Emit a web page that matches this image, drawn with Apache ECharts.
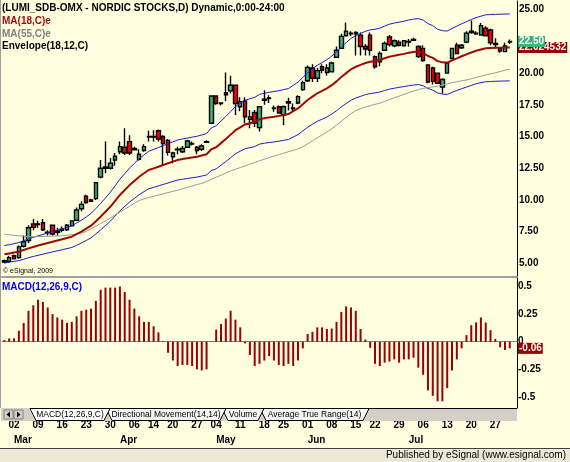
<!DOCTYPE html>
<html>
<head>
<meta charset="utf-8">
<title>LUMI_SDB-OMX</title>
<script src="https://cdn.jsdelivr.net/npm/echarts@6/dist/echarts.min.js"></script>
<style>
  html, body { margin: 0; padding: 0; background: #FFFFE0; }
  #chart { width: 570px; height: 462px; }
</style>
</head>
<body>
<div id="chart"></div>
<script>
// trading days, 26 Feb - 30 Jul 2009
var dates = [
  '2009-02-26', '2009-02-27',
  '2009-03-02', '2009-03-03', '2009-03-04', '2009-03-05', '2009-03-06', '2009-03-09', '2009-03-10', '2009-03-11',
  '2009-03-12', '2009-03-13', '2009-03-16', '2009-03-17', '2009-03-18', '2009-03-19', '2009-03-20', '2009-03-23',
  '2009-03-24', '2009-03-25', '2009-03-26', '2009-03-27', '2009-03-30', '2009-03-31',
  '2009-04-01', '2009-04-02', '2009-04-03', '2009-04-06', '2009-04-07', '2009-04-08', '2009-04-09', '2009-04-14',
  '2009-04-15', '2009-04-16', '2009-04-17', '2009-04-20', '2009-04-21', '2009-04-22', '2009-04-23', '2009-04-24',
  '2009-04-27', '2009-04-28', '2009-04-29', '2009-04-30',
  '2009-05-04', '2009-05-05', '2009-05-06', '2009-05-07', '2009-05-08', '2009-05-11', '2009-05-12', '2009-05-13',
  '2009-05-14', '2009-05-15', '2009-05-18', '2009-05-19', '2009-05-20', '2009-05-22', '2009-05-25', '2009-05-26',
  '2009-05-27', '2009-05-28', '2009-05-29',
  '2009-06-01', '2009-06-02', '2009-06-03', '2009-06-04', '2009-06-05', '2009-06-08', '2009-06-09', '2009-06-10',
  '2009-06-11', '2009-06-12', '2009-06-15', '2009-06-16', '2009-06-17', '2009-06-18', '2009-06-22', '2009-06-23',
  '2009-06-24', '2009-06-25', '2009-06-26', '2009-06-29', '2009-06-30',
  '2009-07-01', '2009-07-02', '2009-07-03', '2009-07-06', '2009-07-07', '2009-07-08', '2009-07-09', '2009-07-10',
  '2009-07-13', '2009-07-14', '2009-07-15', '2009-07-16', '2009-07-17', '2009-07-20', '2009-07-21', '2009-07-22',
  '2009-07-23', '2009-07-24', '2009-07-27', '2009-07-28', '2009-07-29', '2009-07-30'
];

var opens = [
  5.10, 5.15, 5.60, 5.45, 6.35, 6.80, 8.10, 8.05, 8.20, 7.40,
  8.00, 7.45, 7.60, 7.65, 7.95, 8.40, 9.30, 10.30, 9.90, 10.10,
  11.80, 12.50, 12.50, 13.15, 13.80, 14.15, 14.60, 14.05, 13.20, 13.90,
  14.95, 15.00, 15.45, 15.00, 14.70, 13.40, 13.95, 13.80, 14.15, 14.45,
  14.15, 14.00, 14.55, 16.05, 18.20, 17.60, 18.45, 18.60, 19.05, 17.35,
  17.80, 16.35, 16.90, 15.70, 17.85, 18.00, 17.20, 17.35, 16.70, 17.75,
  17.20, 17.65, 18.70, 19.40, 20.40, 19.60, 20.50, 20.05, 20.10, 21.25,
  21.95, 22.95, 23.10, 23.20, 23.00, 22.10, 23.00, 21.30, 20.90, 21.80,
  22.85, 22.15, 22.45, 22.15, 22.50, 22.60, 22.10, 21.95, 20.65, 20.40,
  20.00, 18.90, 20.00, 21.15, 22.20, 22.00, 22.45, 23.30, 23.15, 23.00,
  23.55, 23.40, 22.35, 21.95, 21.70, 22.45
];
var closes = [
  5.20, 5.45, 5.35, 6.30, 6.70, 7.80, 7.85, 8.10, 7.65, 7.45,
  7.30, 7.55, 7.70, 8.00, 8.35, 9.20, 9.65, 9.80, 10.00, 11.35,
  12.50, 12.60, 12.90, 13.45, 14.20, 13.70, 13.70, 13.95, 13.60, 14.20,
  15.00, 14.95, 14.80, 14.45, 13.75, 13.70, 14.00, 14.05, 14.65, 14.40,
  13.90, 14.25, 14.60, 18.20, 17.60, 17.65, 18.30, 19.05, 17.60, 17.75,
  16.55, 16.55, 16.05, 17.35, 17.95, 18.05, 17.25, 16.85, 17.35, 17.65,
  17.25, 18.15, 19.25, 20.45, 19.60, 20.20, 20.25, 20.40, 20.80, 21.80,
  22.90, 23.30, 23.15, 23.10, 22.10, 21.90, 21.80, 20.50, 21.55, 22.35,
  22.25, 22.55, 22.20, 22.55, 22.45, 22.65, 21.30, 21.00, 19.30, 19.35,
  19.20, 19.50, 20.80, 21.95, 21.55, 22.20, 23.15, 23.20, 23.10, 23.75,
  22.95, 22.40, 22.25, 21.75, 22.15, 22.50
];
var lows = [
  5.00, 5.05, 5.30, 5.35, 6.25, 6.60, 7.60, 7.80, 7.55, 7.20,
  7.20, 7.20, 7.45, 7.55, 7.90, 8.35, 9.10, 9.70, 9.85, 10.00,
  11.70, 12.10, 12.40, 12.70, 13.60, 13.55, 13.55, 13.90, 13.10, 13.80,
  14.60, 14.60, 14.60, 12.75, 13.50, 12.90, 13.60, 13.70, 14.10, 14.30,
  13.60, 13.85, 14.50, 16.00, 17.50, 17.45, 17.80, 18.40, 16.70, 17.00,
  16.05, 15.65, 15.75, 15.40, 17.50, 17.65, 16.95, 16.80, 15.90, 17.05,
  17.00, 17.55, 18.60, 19.30, 19.30, 19.30, 20.00, 19.80, 20.05, 21.20,
  21.90, 22.90, 22.90, 21.40, 21.40, 21.40, 21.40, 20.35, 20.55, 21.75,
  22.10, 22.05, 22.10, 22.10, 22.10, 22.55, 21.20, 20.90, 19.20, 19.10,
  19.15, 18.40, 19.95, 21.10, 21.50, 21.90, 22.35, 23.10, 23.00, 22.95,
  22.90, 22.20, 21.95, 21.60, 21.65, 22.30
];
var highs = [
  5.30, 5.60, 5.70, 6.40, 7.20, 8.00, 8.50, 8.35, 8.50, 7.60,
  8.05, 7.80, 7.90, 8.10, 8.40, 9.40, 9.90, 10.40, 10.10, 11.40,
  13.15, 14.60, 13.30, 13.70, 14.60, 15.65, 15.10, 14.20, 14.00, 14.40,
  15.45, 15.50, 15.55, 15.10, 14.80, 13.80, 14.20, 14.25, 14.75, 14.60,
  14.25, 14.40, 14.70, 18.25, 18.25, 17.70, 20.05, 19.80, 19.10, 18.10,
  18.10, 17.10, 17.10, 17.40, 18.65, 18.25, 17.45, 17.45, 17.45, 18.05,
  17.60, 18.25, 19.40, 20.60, 20.70, 20.40, 20.70, 20.70, 20.90, 22.10,
  23.10, 24.00, 23.30, 23.30, 23.20, 22.30, 23.20, 21.40, 21.70, 22.50,
  23.00, 22.65, 22.60, 22.60, 22.70, 22.80, 22.20, 22.20, 20.70, 20.50,
  20.05, 19.60, 20.90, 22.00, 22.40, 22.30, 23.30, 24.15, 23.30, 23.95,
  23.70, 23.50, 22.75, 22.00, 22.40, 22.65
];

// MA(18,C)
var ma18 = [
  5.71, 5.78, 5.85, 5.92, 6.05, 6.18, 6.29, 6.40, 6.50, 6.60,
  6.70, 6.80, 6.90, 7.00, 7.10, 7.30, 7.50, 7.73, 7.97, 8.32,
  8.68, 9.07, 9.46, 9.92, 10.39, 10.78, 11.17, 11.50, 11.83, 12.10,
  12.36, 12.49, 12.62, 12.75, 12.89, 13.02, 13.15, 13.22, 13.28, 13.35,
  13.41, 13.50, 13.60, 14.00, 14.15, 14.48, 14.80, 15.15, 15.50, 15.73,
  15.95, 16.05, 16.15, 16.36, 16.44, 16.51, 16.56, 16.62, 16.70, 16.77,
  17.00, 17.22, 17.55, 17.88, 18.15, 18.41, 18.60, 18.80, 19.05, 19.35,
  19.70, 20.00, 20.30, 20.50, 20.65, 20.80, 20.90, 20.95, 21.03, 21.17,
  21.30, 21.38, 21.45, 21.52, 21.60, 21.66, 21.70, 21.60, 21.35, 21.20,
  20.95, 20.85, 20.82, 21.00, 21.17, 21.33, 21.48, 21.63, 21.77, 21.87,
  21.96, 21.98, 22.00, 22.01, 22.02, 22.024532
];
// MA(55,C)
var ma55 = [
  7.29, 7.25, 7.21, 7.17, 7.13, 7.10, 7.10, 7.11, 7.12, 7.13,
  7.14, 7.15, 7.17, 7.21, 7.26, 7.32, 7.38, 7.52, 7.72, 7.93,
  8.14, 8.36, 8.58, 8.81, 9.04, 9.27, 9.50, 9.73, 9.96, 10.08,
  10.18, 10.28, 10.38, 10.48, 10.58, 10.68, 10.76, 10.88, 10.99, 11.10,
  11.21, 11.30, 11.46, 11.62, 11.79, 11.95, 12.11, 12.28, 12.42, 12.55,
  12.68, 12.82, 12.95, 13.08, 13.22, 13.34, 13.45, 13.57, 13.68, 13.80,
  13.91, 14.03, 14.20, 14.43, 14.66, 14.89, 15.13, 15.36, 15.60, 15.90,
  16.20, 16.50, 16.80, 17.05, 17.20, 17.32, 17.43, 17.54, 17.63, 17.77,
  17.91, 18.05, 18.18, 18.32, 18.45, 18.58, 18.70, 18.80, 18.86, 18.92,
  18.97, 19.06, 19.15, 19.24, 19.32, 19.40, 19.46, 19.56, 19.66, 19.76,
  19.86, 19.94, 20.03, 20.13, 20.23, 20.30
];
// Envelope(18,12,C) upper / lower band
var envUpper = [
  6.40, 6.47, 6.55, 6.63, 6.78, 6.92, 7.04, 7.17, 7.28, 7.39,
  7.50, 7.62, 7.73, 7.84, 7.95, 8.18, 8.40, 8.66, 8.93, 9.32,
  9.72, 10.16, 10.60, 11.11, 11.64, 12.07, 12.51, 12.88, 13.25, 13.55,
  13.84, 13.99, 14.13, 14.28, 14.44, 14.58, 14.73, 14.81, 14.87, 14.95,
  15.02, 15.12, 15.23, 15.68, 15.85, 16.22, 16.58, 16.97, 17.36, 17.62,
  17.86, 17.98, 18.09, 18.32, 18.41, 18.49, 18.55, 18.61, 18.70, 18.78,
  19.04, 19.29, 19.66, 20.03, 20.33, 20.62, 20.83, 21.06, 21.34, 21.67,
  22.06, 22.40, 22.74, 22.96, 23.13, 23.30, 23.41, 23.46, 23.55, 23.71,
  23.86, 23.95, 24.02, 24.10, 24.19, 24.26, 24.30, 24.19, 23.91, 23.74,
  23.46, 23.35, 23.32, 23.52, 23.71, 23.89, 24.06, 24.23, 24.38, 24.49,
  24.60, 24.62, 24.64, 24.65, 24.66, 24.67
];
var envLower = [
  5.02, 5.09, 5.15, 5.21, 5.32, 5.44, 5.54, 5.63, 5.72, 5.81,
  5.90, 5.98, 6.07, 6.16, 6.25, 6.42, 6.60, 6.80, 7.01, 7.32,
  7.64, 7.98, 8.32, 8.73, 9.14, 9.49, 9.83, 10.12, 10.41, 10.65,
  10.88, 10.99, 11.11, 11.22, 11.34, 11.46, 11.57, 11.63, 11.69, 11.75,
  11.80, 11.88, 11.97, 12.32, 12.45, 12.74, 13.02, 13.33, 13.64, 13.84,
  14.04, 14.12, 14.21, 14.40, 14.47, 14.53, 14.57, 14.63, 14.70, 14.76,
  14.96, 15.15, 15.44, 15.73, 15.97, 16.20, 16.37, 16.54, 16.76, 17.03,
  17.34, 17.60, 17.86, 18.04, 18.17, 18.30, 18.39, 18.44, 18.51, 18.63,
  18.74, 18.81, 18.88, 18.94, 19.01, 19.06, 19.10, 19.01, 18.79, 18.66,
  18.44, 18.35, 18.32, 18.48, 18.63, 18.77, 18.90, 19.03, 19.16, 19.25,
  19.32, 19.34, 19.36, 19.37, 19.38, 19.39
];

// MACD(12,26,9,C) histogram
var macdHist = [
  0.015, 0.03, 0.03, 0.10, 0.17, 0.28, 0.33, 0.38, 0.36, 0.31,
  0.25, 0.22, 0.20, 0.17, 0.18, 0.23, 0.28, 0.29, 0.30, 0.37,
  0.47, 0.49, 0.49, 0.49, 0.50, 0.45, 0.38, 0.30, 0.23, 0.18,
  0.18, 0.14, 0.085, 0.005, -0.10, -0.17, -0.22, -0.21, -0.21, -0.22,
  -0.25, -0.26, -0.25, 0.005, 0.11, 0.16, 0.21, 0.28, 0.20, 0.13,
  -0.015, -0.12, -0.22, -0.20, -0.17, -0.13, -0.17, -0.21, -0.22, -0.20,
  -0.22, -0.17, -0.06, 0.07, 0.09, 0.13, 0.13, 0.115, 0.12, 0.18,
  0.27, 0.32, 0.31, 0.28, 0.115, 0.02, -0.055, -0.20, -0.22, -0.19,
  -0.18, -0.16, -0.19, -0.16, -0.16, -0.145, -0.235, -0.30, -0.44, -0.49,
  -0.54, -0.54, -0.42, -0.26, -0.16, -0.06, 0.06, 0.15, 0.175, 0.22,
  0.175, 0.105, 0.025, -0.05, -0.075, -0.06
];

var priceTicks = [5, 7.5, 10, 12.5, 15, 17.5, 20, 22.5, 25];
var macdTicks = [-0.5, -0.25, 0, 0.25, 0.5];
var weekStarts = [
  '2009-03-02', '2009-03-09', '2009-03-16', '2009-03-23', '2009-03-30', '2009-04-06', '2009-04-14',
  '2009-04-20', '2009-04-27', '2009-05-04', '2009-05-11', '2009-05-18', '2009-05-25', '2009-06-01',
  '2009-06-08', '2009-06-15', '2009-06-22', '2009-06-29', '2009-07-06', '2009-07-13', '2009-07-20',
  '2009-07-27'
];
var monthStarts = ['2009-03-02', '2009-04-01', '2009-05-04', '2009-06-01', '2009-07-01'];
var monthNames = ['Mar', 'Apr', 'May', 'Jun', 'Jul'];

var FONT = 'Liberation Sans, Arial, sans-serif';
var cats = dates.concat(['']); // one empty slot at the right edge
var last = dates.length - 1;

var ohlc = dates.map(function (d, i) {
  return [opens[i], closes[i], lows[i], highs[i]];
});

var myChart = echarts.init(document.getElementById('chart'));

function axisText (extra) {
  return Object.assign({ color: '#000', fontFamily: FONT, fontSize: 10, fontWeight: 'bold' }, extra);
}

myChart.setOption({
  animation: false,
  backgroundColor: '#FFFFE0',
  grid: [
    { left: 2, top: 1, width: 515, height: 276 },
    { left: 2, top: 278, width: 515, height: 130 }
  ],
  xAxis: [
    {
      type: 'category', gridIndex: 0, data: cats,
      axisLine: { onZero: false, lineStyle: { color: '#A0A0A0', width: 2 } },
      axisTick: { show: false }, axisLabel: { show: false }, splitLine: { show: false }
    },
    {
      // zero line of the MACD pane
      type: 'category', gridIndex: 1, data: cats,
      axisLine: { onZero: true, lineStyle: { color: '#808080', width: 1 } },
      axisTick: { show: false }, axisLabel: { show: false }
    },
    {
      type: 'category', gridIndex: 1, data: cats, position: 'bottom',
      axisLine: { show: false, onZero: false }, axisTick: { show: false },
      axisLabel: axisText({
        margin: 12,
        interval: function (i, v) { return weekStarts.indexOf(v) >= 0 },
        formatter: function (v) { return v.slice(8) }
      })
    },
    {
      type: 'category', gridIndex: 1, data: cats, position: 'bottom',
      axisLine: { show: false, onZero: false }, axisTick: { show: false },
      axisLabel: axisText({
        margin: 27, align: 'left',
        interval: function (i, v) { return monthStarts.indexOf(v) >= 0 },
        formatter: function (v) { return monthNames[monthStarts.indexOf(v)] }
      })
    }
  ],
  yAxis: [
    {
      type: 'value', gridIndex: 0, position: 'right', min: 3.92, max: 25.69,
      axisLine: { show: true, lineStyle: { color: '#000', width: 1 } },
      axisTick: { show: false }, splitLine: { show: false },
      axisLabel: axisText({
        margin: 2, customValues: priceTicks,
        formatter: function (v) { return v.toFixed(2) }
      })
    },
    {
      type: 'value', gridIndex: 1, position: 'right', min: -0.6, max: 0.577,
      axisLine: { show: true, lineStyle: { color: '#000', width: 1 } },
      axisTick: { show: false }, splitLine: { show: false },
      axisLabel: axisText({
        margin: 1, customValues: macdTicks,
        formatter: function (v) { return String(v) }
      })
    }
  ],
  series: [
    {
      name: 'LUMI', type: 'candlestick', xAxisIndex: 0, yAxisIndex: 0,
      data: ohlc, barWidth: 4, z: 2,
      itemStyle: {
        color: '#3CB47C', color0: '#FF0000',
        borderColor: '#000', borderColor0: '#000', borderColorDoji: '#000',
        borderWidth: 1.4
      }
    },
    {
      name: 'Envelope upper', type: 'line', data: envUpper, symbol: 'none', z: 3,
      lineStyle: { color: '#1C1CC8', width: 1 }
    },
    {
      name: 'Envelope lower', type: 'line', data: envLower, symbol: 'none', z: 3,
      lineStyle: { color: '#1C1CC8', width: 1 }
    },
    {
      name: 'MA55', type: 'line', data: ma55, symbol: 'none', z: 3,
      lineStyle: { color: '#9A9A9A', width: 1 }
    },
    {
      name: 'MA18', type: 'line', data: ma18, symbol: 'none', z: 4,
      lineStyle: { color: '#9C0A0A', width: 2 }
    },
    {
      name: 'MACD', type: 'bar', xAxisIndex: 1, yAxisIndex: 1,
      data: macdHist, barWidth: 2,
      itemStyle: { color: '#990000' }
    }
  ]
});

// last value boxes on the right axis
function valueBox (text, y, bg, z) {
  return {
    type: 'text', x: 518, y: y, z: z,
    style: {
      text: text, fill: '#fff', font: 'bold 10px ' + FONT,
      verticalAlign: 'middle', backgroundColor: bg, padding: [1, 1, 0, 1]
    }
  };
}
var yMa = myChart.convertToPixel({ yAxisIndex: 0 }, ma18[last]);
var yClose = myChart.convertToPixel({ yAxisIndex: 0 }, closes[last]);
var yMacd = myChart.convertToPixel({ yAxisIndex: 1 }, macdHist[last]);

function label (text, x, y, color, size, weight, align) {
  return {
    type: 'text', x: x, y: y, z: 20,
    style: {
      text: text, fill: color, font: (weight || 'normal') + ' ' + size + 'px ' + FONT,
      align: align || 'left', verticalAlign: 'middle'
    }
  };
}

function tab (pts, text, cx, fill) {
  return [
    { type: 'polygon', z: 20, shape: { points: pts }, style: { fill: fill, stroke: '#000', lineWidth: 1 } },
    label(text, cx, 414.5, '#000', 8.5, 'normal', 'center')
  ];
}

var graphics = [
  { type: 'rect', z: 20, shape: { x: 0, y: 0, width: 1, height: 408 }, style: { fill: '#A0A0A0' } },
  label('(LUMI_SDB-OMX - NORDIC STOCKS,D) Dynamic,0:00-24:00', 2, 8.5, '#000', 10, 'bold'),
  label('MA(18,C)e', 2, 21.5, '#9C0A0A', 10, 'bold'),
  label('MA(55,C)e', 2, 34, '#808080', 10, 'bold'),
  label('Envelope(18,12,C)', 2, 46.5, '#000', 10, 'bold'),
  label('\u00a9 eSignal, 2009', 3, 271, '#000', 7),
  label('MACD(12,26,9,C)', 2, 287.5, '#0000FF', 10, 'bold'),

  // tab strip
  { type: 'rect', z: 19, shape: { x: 1, y: 408, width: 516, height: 13 }, style: { fill: '#D4D0C8' } },
  { type: 'line', z: 20, shape: { x1: 369, y1: 408.5, x2: 517, y2: 408.5 }, style: { stroke: '#000', lineWidth: 1 } },
  { type: 'rect', z: 20, shape: { x: 4, y: 410, width: 9, height: 9 }, style: { fill: '#D4D0C8', stroke: '#808080' } },
  { type: 'polygon', z: 21, shape: { points: [[10, 411.5], [10, 417.5], [6.5, 414.5]] }, style: { fill: '#000' } },
  { type: 'rect', z: 20, shape: { x: 14, y: 410, width: 9, height: 9 }, style: { fill: '#D4D0C8', stroke: '#808080' } },
  { type: 'polygon', z: 21, shape: { points: [[17, 411.5], [17, 417.5], [20.5, 414.5]] }, style: { fill: '#000' } }
];
graphics = graphics
  .concat(tab([[260, 408.5], [266, 420.5], [363, 420.5], [369, 408.5]], 'Average True Range(14)', 314.5, '#F4F4F4'))
  .concat(tab([[222, 408.5], [228, 420.5], [258, 420.5], [264, 408.5]], 'Volume', 243, '#F4F4F4'))
  .concat(tab([[106, 408.5], [112, 420.5], [220, 420.5], [226, 408.5]], 'Directional Movement(14,14)', 166, '#F4F4F4'))
  .concat(tab([[30, 408.5], [36, 420.5], [104, 420.5], [110, 408.5]], 'MACD(12,26,9,C)', 70, '#FFFFFF'))
  .concat([
    // footer
    { type: 'rect', z: 20, shape: { x: 0, y: 449, width: 570, height: 13 }, style: { fill: '#ECE9D8' } },
    { type: 'line', z: 21, shape: { x1: 0, y1: 448.5, x2: 570, y2: 448.5 }, style: { stroke: '#404040', lineWidth: 1 } },
    label('Published by eSignal (www.esignal.com)', 566, 455.5, '#000', 10, 'normal', 'right'),

    valueBox(String(ma18[last]), yMa, '#990000', 30),
    valueBox(closes[last].toFixed(2), yClose, '#3CB47C', 31),
    valueBox(macdHist[last].toFixed(2), yMacd, '#990000', 30)
  ]);

myChart.setOption({ graphic: graphics });
</script>
</body>
</html>
